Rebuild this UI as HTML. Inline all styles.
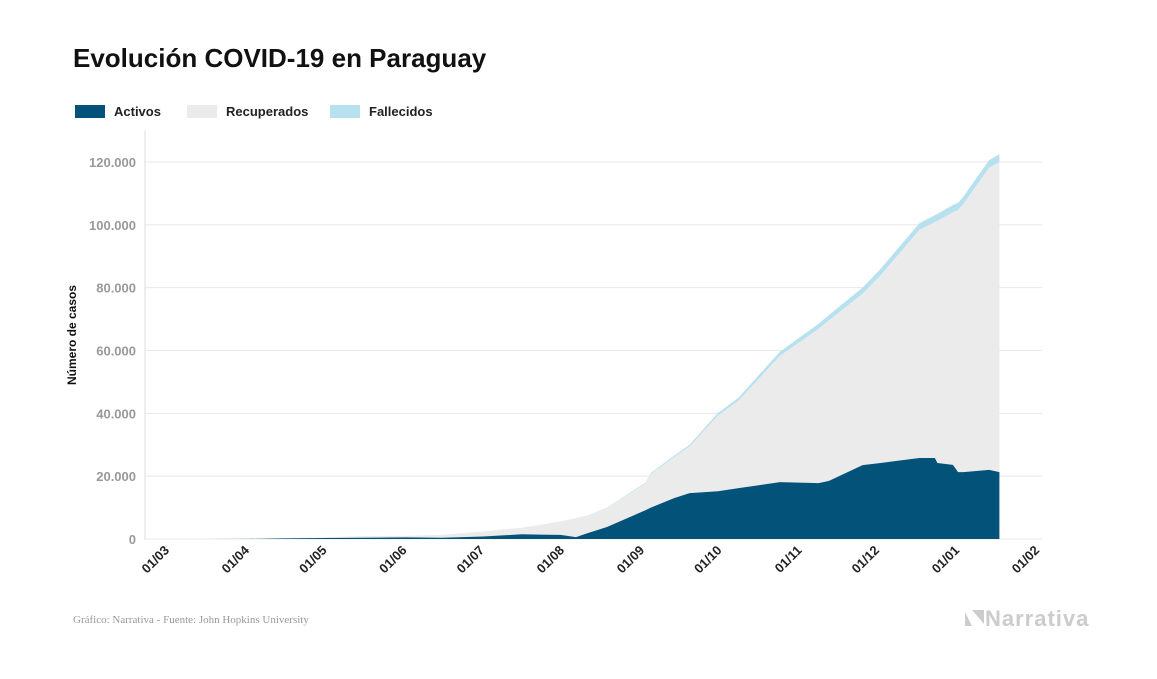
<!DOCTYPE html>
<html><head><meta charset="utf-8"><style>
body{margin:0;background:#fff;width:1157px;height:674px;overflow:hidden;font-family:"Liberation Sans",sans-serif;}
</style></head><body>
<svg width="1157" height="674" xmlns="http://www.w3.org/2000/svg">
<text x="73" y="67" font-size="26" font-weight="bold" fill="#111">Evolución COVID-19 en Paraguay</text>
<g font-size="13" font-weight="bold" fill="#222">
<g><rect x="75" y="105" width="30" height="13" fill="#03527a"/><text x="114" y="116">Activos</text></g>
<g><rect x="187" y="105" width="30" height="13" fill="#ebebeb"/><text x="226" y="116">Recuperados</text></g>
<g><rect x="330" y="105" width="30" height="13" fill="#b7e1ef"/><text x="369" y="116">Fallecidos</text></g>
</g>
<g id="grid"></g>
<g id="areas"></g>
<line x1="145" y1="130" x2="145" y2="540" stroke="#ddd"/>
<g id="yt" font-size="13" font-weight="bold" fill="#999" text-anchor="end"></g>
<g id="xt" font-size="13" font-weight="bold" fill="#222"></g>
<text transform="translate(76,335) rotate(-90)" text-anchor="middle" font-size="12" font-weight="bold" fill="#111">Número de casos</text>
<text x="73" y="623" font-family="Liberation Serif,serif" font-size="11" fill="#999">Gráfico: Narrativa - Fuente: John Hopkins University</text>
<g><path d="M965 610 L972 610 L984 624 L984 610 L965 610 Z M965 612 L965 626 L972 626 Z" fill="#ccc"/><text x="985" y="626" font-size="22" font-weight="bold" fill="#ccc" letter-spacing="1">Narrativa</text></g>
</svg>
<script>
const days=[0,15,31,45,61,75,92,106,122,137,144,152,158,163,170,185,187,196,202,213,221,237,252,256,269,276,291,297,298,304,306,308,318,322];
const total=[0,0,50,300,500,900,1000,1300,2400,3600,4450,5600,6600,7600,10000,18000,21000,26500,30000,40100,45000,59600,68500,71300,80000,86000,100500,103100,103500,106300,107000,108900,120600,122500];
const activos=[0,0,30,200,300,400,500,400,800,1500,1400,1300,600,2000,3800,9200,10000,13000,14600,15200,16200,18100,17800,18500,23500,24200,25800,25800,24200,23600,21300,21300,22000,21300];
const fallecidos=[0,0,5,10,11,11,11,15,20,35,50,70,90,110,150,280,300,450,550,800,950,1300,1600,1700,1950,2050,2200,2250,2250,2300,2330,2350,2450,2550];
const yTicks=[0,20000,40000,60000,80000,100000,120000];
const yLabels=["0","20.000","40.000","60.000","80.000","100.000","120.000"];
const xTickDays=[0,31,61,92,122,153,184,214,245,275,306,337];
const xLabels=["01/03","01/04","01/05","01/06","01/07","01/08","01/09","01/10","01/11","01/12","01/01","01/02"];
const NS="http://www.w3.org/2000/svg";
const xs=d=>168+d*2.582, ys=v=>539-v*(377/120000);
function mk(t,a,p){const e=document.createElementNS(NS,t);for(const k in a)e.setAttribute(k,a[k]);p.appendChild(e);return e;}
const grid=document.getElementById('grid'),yt=document.getElementById('yt'),xt=document.getElementById('xt'),ar=document.getElementById('areas');
yTicks.forEach((v,i)=>{
 const l=mk('line',{x1:145,x2:1042,y1:ys(v),y2:ys(v),stroke:'#e8e8e8'},grid);
 
 
 const t=mk('text',{x:136,y:ys(v)+5},yt);t.textContent=yLabels[i];
 
 
});
xTickDays.forEach((d,i)=>{
 const t=mk('text',{x:xs(d)+2,y:551,'text-anchor':'end',transform:`rotate(-45 ${xs(d)+2} 551)`},xt);t.textContent=xLabels[i];
 
 
});
function area(top,bot,color,name){
 let p='M'+days.map((d,i)=>xs(d)+','+ys(top[i])).join(' L');
 for(let i=days.length-1;i>=0;i--)p+=' L'+xs(days[i])+','+ys(bot[i]);
 const e=mk('path',{d:p+'Z',fill:color},ar);
 
 
}
const zero=days.map(()=>0);
const topAR=days.map((d,i)=>total[i]-fallecidos[i]);
area(total,topAR,'#b7e1ef','area-fallecidos');
area(topAR,activos,'#ebebeb','area-recuperados');
area(activos,zero,'#03527a','area-activos');
</script>
</body></html>
